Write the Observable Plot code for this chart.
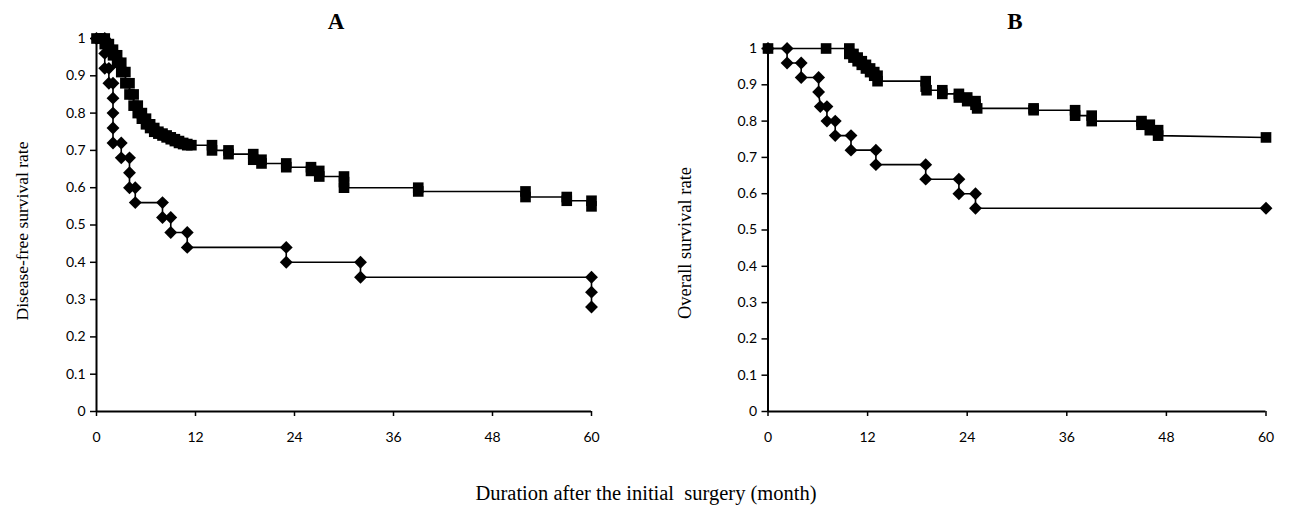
<!DOCTYPE html>
<html>
<head>
<meta charset="utf-8">
<script src="https://cdn.jsdelivr.net/npm/d3@7"></script>
<script src="https://cdn.jsdelivr.net/npm/@observablehq/plot@0.6"></script>
<style>
  body { margin: 0; background: #fff; }
  #fig { position: relative; width: 1290px; height: 509px; overflow: hidden; font-family: "Liberation Serif", "Times New Roman", serif; color: #000; }
  .panel { position: absolute; top: 0; }
  .title { position: absolute; font-weight: bold; font-size: 23px; transform: translate(-50%, -50%); }
  .ylab { position: absolute; white-space: nowrap; transform: translate(-50%, -50%) rotate(-90deg); }
  .xlab { position: absolute; font-size: 20.5px; white-space: pre; transform: translate(-50%, -50%); }
</style>
</head>
<body>
<div id="fig"></div>
<script>
// Kaplan–Meier step curves: every vertex (month, survival rate) carries a marker.

// Panel A — disease-free survival, upper group (squares)
const dfsHighMonth = [0, 0.5, 1, 1, 1.5, 1.5, 2, 2, 2.5, 2.5, 3, 3, 3.5, 3.5, 4, 4, 4.5, 4.5, 5, 5, 5.5, 5.5, 6, 6, 6.5, 6.5, 7, 7, 7.5, 7.5, 8, 8, 8.5, 8.5, 9, 9, 9.5, 9.5, 10, 10, 10.5, 10.5, 11, 11, 11.5, 14, 14, 16, 16, 19, 19, 20, 20, 23, 23, 26, 26, 27, 27, 30, 30, 30, 39, 39, 52, 52, 57, 57, 60, 60];
const dfsHighRate  = [1, 1, 1, 0.985, 0.985, 0.97, 0.97, 0.955, 0.955, 0.935, 0.935, 0.91, 0.91, 0.88, 0.88, 0.85, 0.85, 0.82, 0.82, 0.80, 0.80, 0.785, 0.785, 0.77, 0.77, 0.76, 0.76, 0.75, 0.75, 0.745, 0.745, 0.74, 0.74, 0.735, 0.735, 0.73, 0.73, 0.725, 0.725, 0.72, 0.72, 0.717, 0.717, 0.714, 0.714, 0.714, 0.70, 0.70, 0.69, 0.69, 0.675, 0.675, 0.665, 0.665, 0.655, 0.655, 0.645, 0.645, 0.63, 0.63, 0.615, 0.60, 0.60, 0.59, 0.59, 0.575, 0.575, 0.565, 0.565, 0.55];

// Panel A — disease-free survival, lower group (diamonds)
const dfsLowMonth = [0, 1, 1, 1, 1.5, 1.5, 2, 2, 2, 2, 2, 3, 3, 4, 4, 4, 4.7, 4.7, 8, 8, 9, 9, 11, 11, 23, 23, 32, 32, 60, 60, 60];
const dfsLowRate  = [1, 1, 0.96, 0.92, 0.92, 0.88, 0.88, 0.84, 0.80, 0.76, 0.72, 0.72, 0.68, 0.68, 0.64, 0.60, 0.60, 0.56, 0.56, 0.52, 0.52, 0.48, 0.48, 0.44, 0.44, 0.40, 0.40, 0.36, 0.36, 0.32, 0.28];

// Panel B — overall survival, upper group (squares)
const osHighMonth = [0, 7, 9.8, 9.8, 10.3, 10.3, 10.8, 10.8, 11.3, 11.3, 11.8, 11.8, 12.3, 12.3, 12.8, 12.8, 13.2, 13.2, 19, 19, 19.1, 21, 21, 23, 23, 24, 24, 25, 25, 25.2, 32, 32, 37, 37, 39, 39, 45, 45, 46, 46, 47, 47, 60];
const osHighRate  = [1, 1, 1, 0.985, 0.985, 0.975, 0.975, 0.965, 0.965, 0.955, 0.955, 0.945, 0.945, 0.935, 0.935, 0.925, 0.925, 0.91, 0.91, 0.895, 0.885, 0.885, 0.875, 0.875, 0.865, 0.865, 0.855, 0.855, 0.845, 0.835, 0.835, 0.83, 0.83, 0.815, 0.815, 0.80, 0.80, 0.79, 0.79, 0.775, 0.775, 0.76, 0.755];

// Panel B — overall survival, lower group (diamonds)
const osLowMonth = [0, 2.3, 2.3, 4, 4, 6.1, 6.1, 6.3, 7.1, 7.1, 8.1, 8.1, 10, 10, 13, 13, 19, 19, 23, 23, 25, 25, 60];
const osLowRate  = [1, 1, 0.96, 0.96, 0.92, 0.92, 0.88, 0.84, 0.84, 0.80, 0.80, 0.76, 0.76, 0.72, 0.72, 0.68, 0.68, 0.64, 0.64, 0.60, 0.60, 0.56, 0.56];

const monthTicks = [0, 12, 24, 36, 48, 60];
const rateTicks = [0, 0.1, 0.2, 0.3, 0.4, 0.5, 0.6, 0.7, 0.8, 0.9, 1];
const panelTitles = ["A", "B"];
const yLabels = ["Disease-free survival rate", "Overall survival rate"];
const xLabel = "Duration after the initial  surgery (month)";

const toRows = (months, rates) => months.map((m, i) => ({month: m, rate: rates[i]}));

function survivalPanel({high, low, width, height, marginLeft, marginRight, marginTop, marginBottom}) {
  return Plot.plot({
    width, height, marginLeft, marginRight, marginTop, marginBottom,
    x: {domain: [0, 60]},
    y: {domain: [0, 1]},
    style: {fontFamily: "Lato, 'Open Sans', sans-serif", fontSize: "14px", color: "#000", background: "transparent", overflow: "visible"},
    marks: [
      Plot.axisX({ticks: monthTicks, tickSize: 5, tickPadding: 16, tickFormat: d => String(d), label: null, strokeWidth: 1.5}),
      Plot.axisY({ticks: rateTicks, tickSize: 6, tickPadding: 5, tickFormat: d => String(+d.toFixed(1)), label: null, strokeWidth: 1.5}),
      Plot.ruleY([0], {stroke: "#000", strokeWidth: 2}),
      Plot.ruleX([0], {stroke: "#000", strokeWidth: 2}),
      Plot.line(high, {x: "month", y: "rate", stroke: "#000", strokeWidth: 1.6}),
      Plot.line(low, {x: "month", y: "rate", stroke: "#000", strokeWidth: 1.6}),
      Plot.dot(high, {x: "month", y: "rate", symbol: "square", r: 6, fill: "#000", stroke: null}),
      Plot.dot(low, {x: "month", y: "rate", symbol: "diamond2", r: 5.8, fill: "#000", stroke: null})
    ]
  });
}

const fig = document.getElementById("fig");

const panelA = survivalPanel({
  high: toRows(dfsHighMonth, dfsHighRate),
  low: toRows(dfsLowMonth, dfsLowRate),
  width: 640, height: 460, marginLeft: 96, marginRight: 49, marginTop: 38, marginBottom: 49
});
panelA.classList.add("panel");
panelA.style.left = "0px";
fig.appendChild(panelA);

const panelB = survivalPanel({
  high: toRows(osHighMonth, osHighRate),
  low: toRows(osLowMonth, osLowRate),
  width: 645, height: 460, marginLeft: 122.5, marginRight: 24.5, marginTop: 48, marginBottom: 49
});
panelB.classList.add("panel");
panelB.style.left = "645px";
fig.appendChild(panelB);

function addText(cls, text, x, y, size) {
  const el = document.createElement("div");
  el.className = cls;
  el.textContent = text;
  el.style.left = x + "px";
  el.style.top = y + "px";
  if (size) el.style.fontSize = size + "px";
  fig.appendChild(el);
}

addText("title", panelTitles[0], 336, 22);
addText("title", panelTitles[1], 1015, 22);
addText("ylab", yLabels[0], 22, 231, 17.5);
addText("ylab", yLabels[1], 685, 243, 18.5);
addText("xlab", xLabel, 646, 493);
</script>
</body>
</html>
